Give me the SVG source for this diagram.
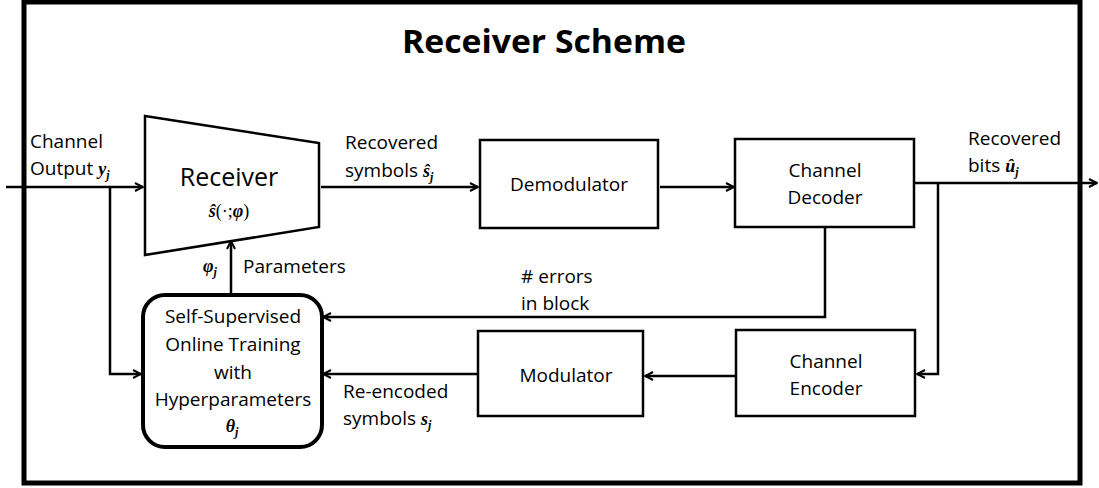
<svg xmlns="http://www.w3.org/2000/svg" width="1099" height="488" viewBox="0 0 1099 488">
<defs>
<marker id="arr" viewBox="0 0 10 10" refX="9" refY="5" markerWidth="10" markerHeight="10" markerUnits="userSpaceOnUse" orient="auto">
<path d="M1,1 L9,5 L1,9" fill="none" stroke="#000" stroke-width="2"/>
</marker>
<style>
.t{font-family:"Open Sans","Liberation Sans",sans-serif;font-size:19px;fill:#000}
.c{text-anchor:middle}
.m{font-family:"Liberation Serif","DejaVu Serif",serif;font-style:italic;font-weight:bold;font-size:18px}
.n{font-family:"Liberation Serif","DejaVu Serif",serif;font-style:normal;font-weight:normal}
.s{font-size:12px}
.box{fill:#fff;stroke:#000;stroke-width:2.5}
.ln{fill:none;stroke:#000;stroke-width:2.5}
.a{marker-end:url(#arr)}
</style>
</defs>
<rect width="1099" height="488" fill="#fff"/>
<rect x="24" y="2" width="1056" height="481" fill="none" stroke="#000" stroke-width="5"/>
<text x="544" y="53" class="c" style="font-family:'Open Sans','Liberation Sans',sans-serif;font-weight:bold;font-size:32px" textLength="284" lengthAdjust="spacingAndGlyphs">Receiver Scheme</text>

<g id="connectors">
<path class="ln a" d="M6,187 H143"/>
<path class="ln a" d="M110,187 V374 H141"/>
<path class="ln a" d="M231,294 V241"/>
<path class="ln a" d="M321,187 H478"/>
<path class="ln a" d="M660,187 H734"/>
<path class="ln a" d="M914,183 H1097"/>
<path class="ln a" d="M938,183 V374 H917"/>
<path class="ln a" d="M825,228 V317 H323"/>
<path class="ln a" d="M477,374 H323"/>
<path class="ln a" d="M736,376 H645"/>
</g>

<g id="receiver">
<path class="box" d="M145,116 L319,143 L319,227 L145,255 Z"/>
<text x="229" y="186" class="t c" style="font-size:25px">Receiver</text>
<text x="229" y="217" class="m c" style="font-size:18px">ŝ<tspan class="n">(·;</tspan>φ<tspan class="n">)</tspan></text>
</g>

<g id="training">
<rect x="143" y="295" width="179" height="152" rx="22" fill="#fff" stroke="#000" stroke-width="4"/>
<text x="233" y="323" class="t c">Self-Supervised</text>
<text x="233" y="351" class="t c">Online Training</text>
<text x="233" y="379" class="t c">with</text>
<text x="233" y="406" class="t c">Hyperparameters</text>
<text x="232" y="432" class="m c">θ<tspan class="s" dy="4">j</tspan></text>
</g>

<g id="demodulator">
<rect class="box" x="480" y="140" width="178" height="88"/>
<text x="569" y="191" class="t c">Demodulator</text>
</g>

<g id="decoder">
<rect class="box" x="735" y="139" width="179" height="88"/>
<text x="825" y="177" class="t c">Channel</text>
<text x="825" y="204" class="t c">Decoder</text>
</g>

<g id="modulator">
<rect class="box" x="478" y="331" width="165" height="85"/>
<text x="566" y="382" class="t c">Modulator</text>
</g>

<g id="encoder">
<rect class="box" x="736" y="330" width="179" height="86"/>
<text x="826" y="368" class="t c">Channel</text>
<text x="826" y="395" class="t c">Encoder</text>
</g>

<g id="labels">
<text x="30" y="148" class="t">Channel</text>
<text x="30" y="175" class="t">Output <tspan class="m">y<tspan class="s" dy="4">j</tspan></tspan></text>
<text x="345" y="149" class="t">Recovered</text>
<text x="345" y="177" class="t">symbols <tspan class="m">ŝ<tspan class="s" dy="4">j</tspan></tspan></text>
<text x="968" y="145" class="t">Recovered</text>
<text x="968" y="172" class="t">bits  <tspan class="m">û<tspan class="s" dy="4">j</tspan></tspan></text>
<text x="203" y="272" class="m">φ<tspan class="s" dy="4">j</tspan></text>
<text x="243" y="273" class="t">Parameters</text>
<text x="521" y="283" class="t"># errors</text>
<text x="521" y="310" class="t">in block</text>
<text x="343" y="398" class="t">Re-encoded</text>
<text x="343" y="425" class="t">symbols <tspan class="m">s<tspan class="s" dy="4">j</tspan></tspan></text>
</g>
</svg>
